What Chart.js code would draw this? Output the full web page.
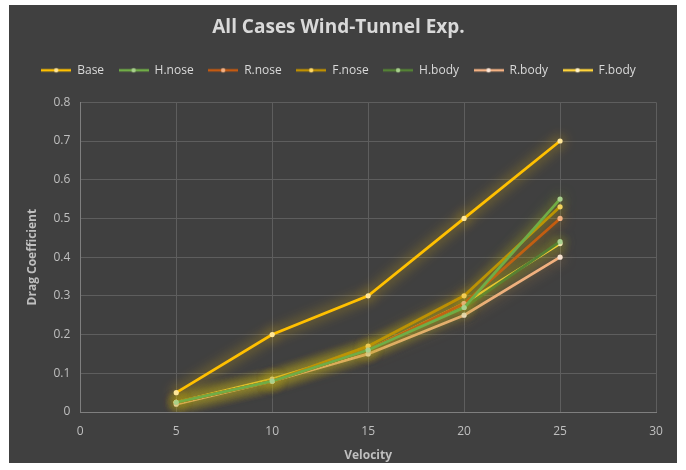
<!DOCTYPE html>
<html>
<head>
<meta charset="utf-8">
<script src="https://cdn.jsdelivr.net/npm/chart.js@4/dist/chart.umd.min.js"></script>
<style>
  html, body { margin: 0; padding: 0; background: #ffffff; }
  #wrap { position: absolute; left: 9px; top: 5px; width: 668px; height: 458px; background: #404040; }
  canvas { display: block; }
</style>
</head>
<body>
<div id="wrap"><canvas id="c" width="668" height="458"></canvas></div>
<script>
// Velocities tested in the tunnel
const velocity = [5, 10, 15, 20, 25];

// Drag coefficient per configuration
const base  = [0.05, 0.20, 0.30, 0.50, 0.70];
const hNose = [0.025, 0.08, 0.16, 0.27, 0.55];
const rNose = [0.025, 0.08, 0.16, 0.28, 0.50];
const fNose = [0.025, 0.08, 0.17, 0.30, 0.53];
const hBody = [0.025, 0.08, 0.16, 0.27, 0.44];
const rBody = [0.02, 0.08, 0.15, 0.25, 0.40];
const fBody = [0.025, 0.085, 0.16, 0.28, 0.435];

const seriesNames = ['Base', 'H.nose', 'R.nose', 'F.nose', 'H.body', 'R.body', 'F.body'];
const seriesValues = [base, hNose, rNose, fNose, hBody, rBody, fBody];
const lineColors  = ['#FFC000', '#70AD47', '#C55A11', '#BF9000', '#548235', '#F4B183', '#FFD43B'];
const dotColors   = ['#FFE699', '#A9D18E', '#F4B183', '#FFD966', '#A9D18E', '#FBE5D6', '#FFF2CC'];
const glowColors  = ['rgba(255,200,0,0.85)', 'rgba(150,190,40,0.7)', 'rgba(220,140,20,0.7)', 'rgba(220,180,0,0.75)',
                     'rgba(140,180,30,0.7)', 'rgba(240,170,80,0.6)', 'rgba(255,220,0,0.85)'];

const xTicks = [0, 5, 10, 15, 20, 25, 30];
const yTicks = [0, 0.1, 0.2, 0.3, 0.4, 0.5, 0.6, 0.7, 0.8];

// legend swatch: short line with a dot in the middle
function swatch(line, dot) {
  const c = document.createElement('canvas');
  c.width = 30; c.height = 8;
  const g = c.getContext('2d');
  g.strokeStyle = line; g.lineWidth = 2.5;
  g.beginPath(); g.moveTo(0, 4); g.lineTo(30, 4); g.stroke();
  g.fillStyle = dot;
  g.beginPath(); g.arc(15, 4, 2.2, 0, Math.PI * 2); g.fill();
  return c;
}

const datasets = seriesNames.map((name, i) => ({
  label: name,
  data: velocity.map((v, k) => ({ x: v, y: seriesValues[i][k] })),
  showLine: true,
  borderColor: lineColors[i],
  backgroundColor: lineColors[i],
  borderWidth: 2.8,
  pointStyle: 'circle',
  pointRadius: 2.6,
  pointBorderWidth: 0,
  pointBackgroundColor: dotColors[i],
  glow: glowColors[i]
}));

// soft glow around each series
const glowPlugin = {
  id: 'glow',
  beforeDatasetDraw(chart, args) {
    const ctx = chart.ctx;
    ctx.save();
    ctx.shadowColor = chart.data.datasets[args.index].glow;
    ctx.shadowBlur = 13;
  },
  afterDatasetDraw(chart) {
    chart.ctx.restore();
  }
};

// extra room between the legend row and the plot
const legendGap = {
  id: 'legendGap',
  afterInit(chart) {
    const lg = chart.legend;
    const fit = lg.fit;
    lg.fit = function () { fit.call(lg); lg.height += 16; };
  }
};

const tickFont = { family: 'Open Sans', size: 12 };

new Chart(document.getElementById('c'), {
  type: 'scatter',
  data: { datasets },
  plugins: [glowPlugin, legendGap],
  options: {
    responsive: false,
    animation: false,
    layout: { padding: { left: 12, right: 21, top: 6, bottom: 0 } },
    plugins: {
      title: {
        display: true,
        text: 'All Cases Wind-Tunnel Exp.',
        color: '#D9D9D9',
        font: { family: 'Open Sans', size: 19, weight: 'bold' },
        padding: { top: 5, bottom: 11 }
      },
      legend: {
        position: 'top',
        labels: {
          color: '#D9D9D9',
          font: { family: 'Open Sans', size: 12 },
          usePointStyle: true,
          pointStyleWidth: 30,
          boxHeight: 8,
          padding: 14.5,
          generateLabels(chart) {
            return chart.data.datasets.map((d, i) => ({
              text: d.label,
              fontColor: '#D9D9D9',
              pointStyle: swatch(lineColors[i], dotColors[i]),
              datasetIndex: i,
              lineWidth: 0,
              hidden: false
            }));
          }
        }
      },
      tooltip: { enabled: false }
    },
    scales: {
      x: {
        type: 'linear',
        min: 0, max: 30,
        afterBuildTicks(s) { s.ticks = xTicks.map(v => ({ value: v })); },
        afterFit(s) { s.height = 51; },
        ticks: { color: '#BFBFBF', font: tickFont, padding: 12 },
        grid: { color: '#5E5E5E', lineWidth: 1, drawTicks: false },
        border: { color: '#7F7F7F' },
        title: { display: true, text: 'Velocity', color: '#BFBFBF',
                 font: { family: 'Open Sans', size: 12, weight: 'bold' }, padding: { top: 0, bottom: 0 } }
      },
      y: {
        type: 'linear',
        min: 0, max: 0.8,
        afterBuildTicks(s) { s.ticks = yTicks.map(v => ({ value: v })); },
        ticks: { color: '#BFBFBF', font: tickFont, padding: 10,
                 callback: v => (Math.round(v * 10) / 10).toString() },
        grid: { color: '#5E5E5E', lineWidth: 1, drawTicks: false },
        border: { color: '#7F7F7F' },
        title: { display: true, text: 'Drag Coefficient', color: '#BFBFBF',
                 font: { family: 'Open Sans', size: 12, weight: 'bold' }, padding: { bottom: 4 } }
      }
    }
  }
});
</script>
</body>
</html>
